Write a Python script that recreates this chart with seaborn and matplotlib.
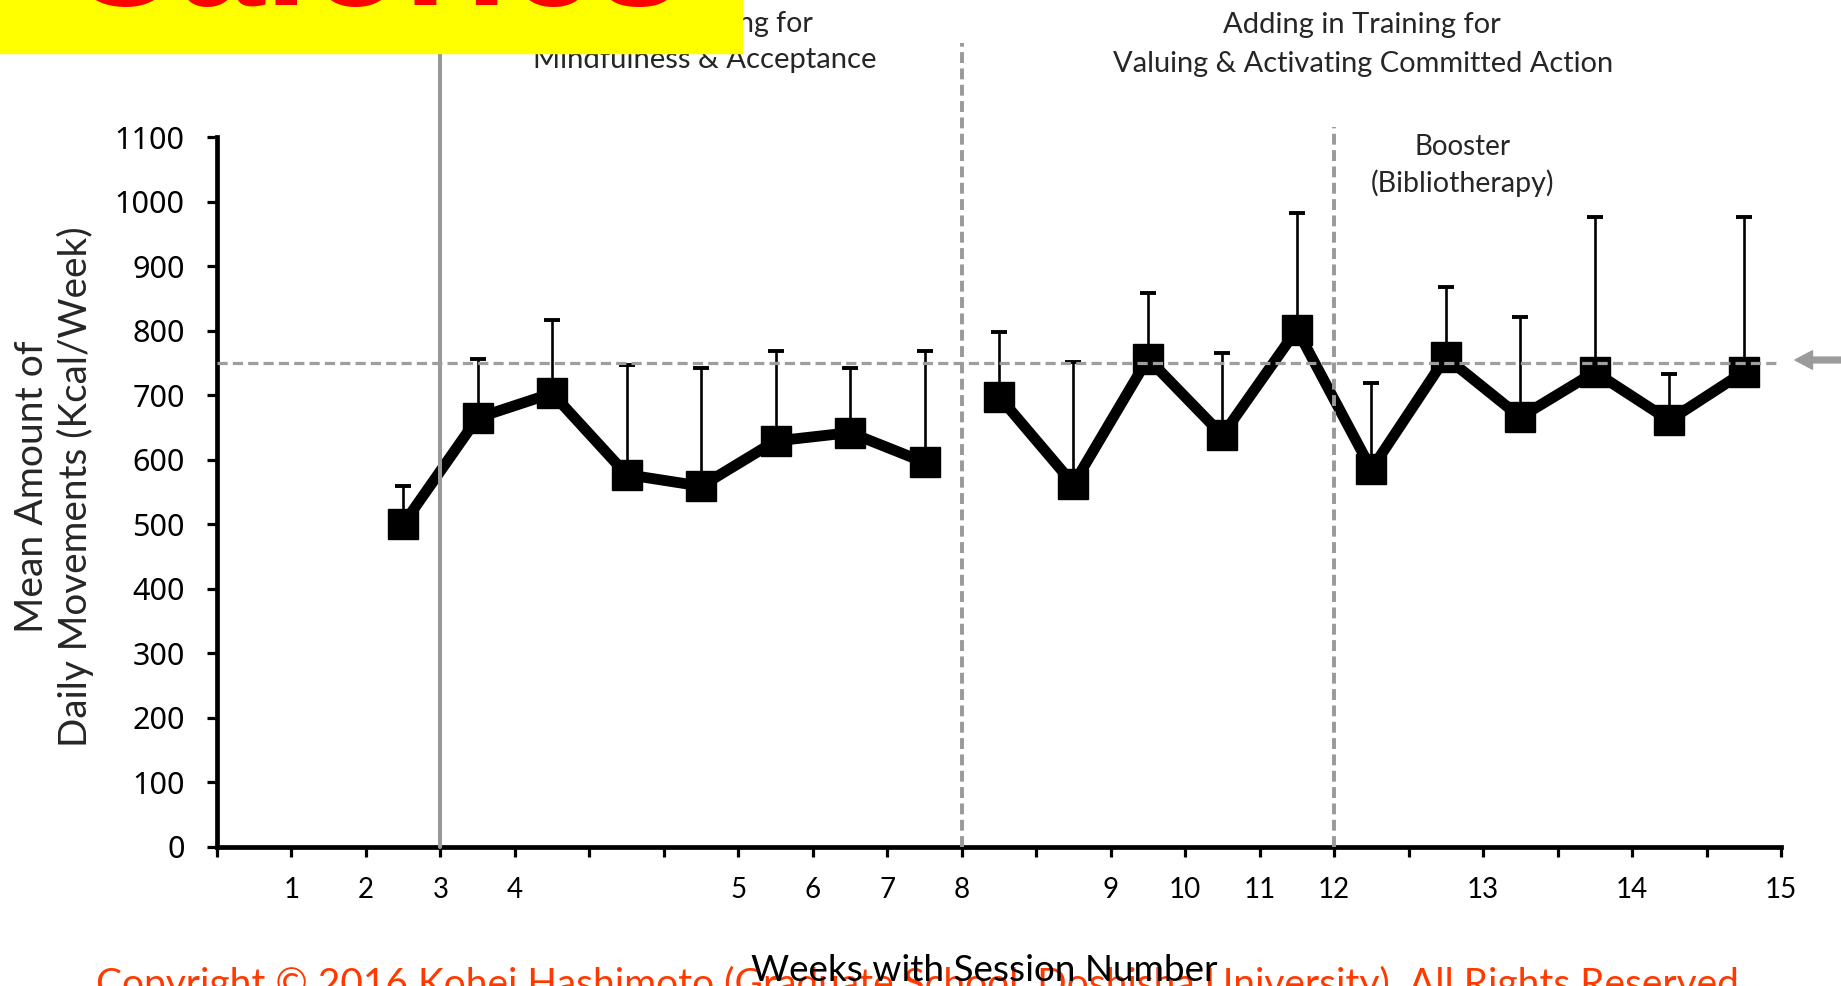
import matplotlib
matplotlib.use("Agg")
import matplotlib.pyplot as plt
import numpy as np
import pandas as pd
import seaborn as sns

# ---------------- data ----------------
# labels under the 22 tick marks of the week axis (blank = unlabelled tick)
week_tick_labels = ['', '1', '2', '3', '4', '', '', '5', '6', '7', '8', '',
                    '9', '10', '11', '12', '', '13', '', '14', '', '15']
# measurement occasions: the week-axis slot each mean belongs to
occasion_slot = [2, 3, 4, 5, 6, 7, 8, 9,
                 10, 11, 12, 13, 14, 15, 16, 17, 18, 19, 20]
phase = ['Mindfulness & Acceptance'] * 8 + ['Valuing & Committed Action'] * 11
mean_kcal = [500, 665, 703, 577, 559, 629, 642, 596,
             698, 562, 757, 638, 802, 585, 759, 666, 736, 661, 736]
sd_upper = [60, 91, 114, 170, 183, 140, 100, 173,
            100, 189, 102, 128, 180, 134, 109, 156, 241, 72, 241]
baseline_end_tick = 3          # solid line: end of baseline
phase_change_ticks = [10, 15]  # dashed lines: valuing phase, booster
reference_kcal = 750
y_ticks = list(range(0, 1101, 100))

# ---------------- style ----------------
sns.set_style("ticks")
plt.rcParams['font.family'] = ['Lato', 'DejaVu Sans']

W, H = 1841, 986
fig = plt.figure(figsize=(W / 100, H / 100), dpi=100)
ax = fig.add_axes([217 / W, (H - 846.5) / H, (1781 - 217) / W, (846.5 - 137.4) / H])

df = pd.DataFrame({'slot': np.array(occasion_slot) + 0.5,
                   'kcal': mean_kcal,
                   'sd': sd_upper,
                   'phase': phase})

# upper-only error bars
ax.errorbar(df['slot'], df['kcal'], yerr=[np.zeros(len(df)), df['sd']],
            fmt='none', ecolor='black', elinewidth=1.9, capsize=6,
            capthick=2.8, zorder=2)

# means, one unbroken line per phase
sns.lineplot(data=df, x='slot', y='kcal', units='phase', estimator=None,
             sort=False, color='black', linewidth=7.8, marker='s',
             markersize=21, markeredgecolor='black', markeredgewidth=1,
             legend=False, ax=ax, zorder=3)

ax.set_xlim(0, 21)
ax.set_ylim(0, 1100)
ax.set_xticks(range(len(week_tick_labels)))
ax.set_xticklabels(week_tick_labels)
ax.set_yticks(y_ticks)
ax.set_xlabel('')
ax.set_ylabel('')
sns.despine(ax=ax)
for side in ('left', 'bottom'):
    ax.spines[side].set_linewidth(3.4)
    ax.spines[side].set_color('black')
ax.tick_params(axis='both', direction='out', length=7.2, width=2.3,
               color='black', labelcolor='black')
ax.tick_params(axis='x', pad=15, labelsize=20)
ax.tick_params(axis='y', pad=16, labelsize=22)
for lab in ax.get_yticklabels():
    lab.set_fontfamily('Noto Sans')

# reference level and phase markers
ax.axhline(reference_kcal, color='#9e9e9e', lw=2.3, ls=(0, (3.2, 1.6)), zorder=5)
xt = ax.get_xaxis_transform()
ax.plot([baseline_end_tick] * 2, [0, 1.25], transform=xt, clip_on=False,
        color='#999999', lw=2.9, zorder=5)
for tick, top in zip(phase_change_ticks, [1.133, 1.0147]):
    ax.plot([tick] * 2, [0, top], transform=xt, clip_on=False,
            color='#999999', lw=2.8, ls=(0, (2.8, 1.4)), zorder=5)

# arrow pointing at the reference level
ax.annotate('', xy=(1795, H - 360), xytext=(1850, H - 360),
            xycoords='figure pixels', textcoords='figure pixels',
            arrowprops=dict(arrowstyle='simple,head_length=0.9,head_width=0.95,tail_width=0.3',
                            mutation_scale=14, color='#9a9a9a',
                            shrinkA=0, shrinkB=0))

# ---------------- text ----------------
renderer = fig.canvas.get_renderer()


def place(s, x, y, width, **kw):
    """Put text at figure pixel (x, y from top) and scale it to a pixel width."""
    t = fig.text(x / W, 1 - y / H, s, fontsize=20, **kw)
    bb = t.get_window_extent(renderer)
    t.set_fontsize(20 * width / max(bb.width, bb.height))
    return t


def cap_px(t):
    return 0.7165 * t.get_fontsize() * 100 / 72


place('Training for', 812.5, 32, 146, ha='right', va='baseline')
place('Mindfulness & Acceptance', 704.5, 68, 345, ha='center', va='baseline')
place('Adding in Training for', 1362, 33, 279, ha='center', va='baseline')
place('Valuing & Activating Committed Action', 1363, 72, 502, ha='center', va='baseline')
place('Booster', 1463, 155, 96, ha='center', va='baseline')
place('(Bibliotherapy)', 1462, 192, 184, ha='center', va='baseline')

place('Mean Amount of', 43, 487, 293, ha='center', va='baseline',
      rotation=90, rotation_mode='anchor')
place('Daily Movements (Kcal/Week)', 87, 487, 520, ha='center', va='baseline',
      rotation=90, rotation_mode='anchor')

cr = place('Copyright \u00a9 2016 Kohei Hashimoto (Graduate School, Doshisha University). All Rights Reserved',
           917, 986, 1646, ha='center', va='baseline', color='#ff3a00')
cr.set_y(1 - (968 + cap_px(cr)) / H)
xl = place('Weeks with Session Number', 984.5, 986, 467, ha='center', va='baseline',
           color='black', zorder=5)
xl.set_y(1 - (955 + cap_px(xl)) / H)

# title banner
fig.patches.append(plt.Rectangle((0, 1 - 53 / H), 742 / W, 53 / H,
                                 transform=fig.transFigure, color='#ffff00',
                                 zorder=10))
place('Calories', 374.5, 5, 617, ha='center', va='baseline', color='#ff0000',
      fontweight='bold', family='Liberation Sans', zorder=11)

fig.savefig('out.png', dpi=100)
